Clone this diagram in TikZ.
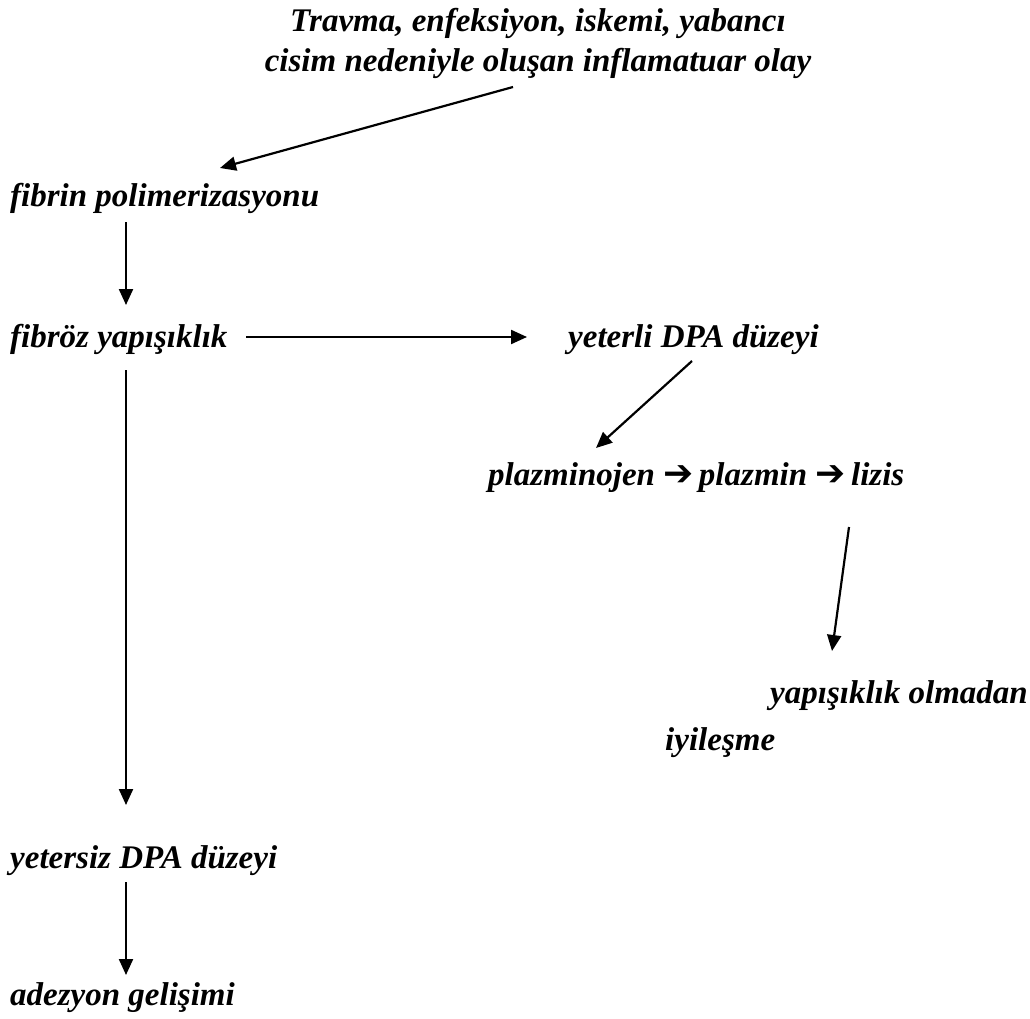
\documentclass[tikz,border=0pt]{standalone}
\usepackage{fontspec}
\setmainfont{Liberation Serif}
\newfontfamily\symfont{DejaVu Sans}
\usetikzlibrary{arrows.meta}
\tikzset{
  lbl/.style={font=\fontsize{33}{40}\selectfont\bfseries\itshape, inner sep=0pt, anchor=base west},
  arr/.style={line width=2.2pt, -{Triangle[length=16pt,width=14pt]}},
}
\newcommand{\rarr}{{\symfont\bfseries\fontsize{36}{40}\selectfont ➔}}
\begin{document}
\begin{tikzpicture}[x=1pt,y=-1pt]
\useasboundingbox (0,0) rectangle (1030,1019);
\node[lbl, anchor=center, align=center] (title) at (538,43) {Travma, enfeksiyon, iskemi, yabancı\\cisim nedeniyle oluşan inflamatuar olay};
\node[lbl] (fib) at (10,207) {fibrin polimerizasyonu};
\node[lbl] (froz) at (10,347) {fibröz yapışıklık};
\node[lbl] (yeterli) at (568,347) {yeterli DPA düzeyi};
\node[lbl] (plaz) at (488,485) {plazminojen \rarr\,plazmin \rarr\,lizis};
\node[lbl, anchor=base west, align=left] (iyi) at (665,750) {\hspace*{105pt}yapışıklık olmadan\\[7pt]iyileşme};
\node[lbl] (yetersiz) at (10,868) {yetersiz DPA düzeyi};
\node[lbl] (adez) at (10,1005) {adezyon gelişimi};
\coordinate (a1s) at (513,87);  \coordinate (a1e) at (220,168);
\coordinate (a2s) at (126,222); \coordinate (a2e) at (126,305);
\coordinate (a3s) at (246,337); \coordinate (a3e) at (527,337);
\coordinate (a4s) at (692,361); \coordinate (a4e) at (596,448);
\coordinate (a5s) at (849,527); \coordinate (a5e) at (832,651);
\coordinate (a6s) at (126,370); \coordinate (a6e) at (126,805);
\coordinate (a7s) at (126,882); \coordinate (a7e) at (126,975);
\draw[arr] (a1s) -- (a1e);
\draw[arr] (a2s) -- (a2e);
\draw[arr] (a3s) -- (a3e);
\draw[arr] (a4s) -- (a4e);
\draw[arr] (a5s) -- (a5e);
\draw[arr] (a6s) -- (a6e);
\draw[arr] (a7s) -- (a7e);
\end{tikzpicture}
\end{document}
